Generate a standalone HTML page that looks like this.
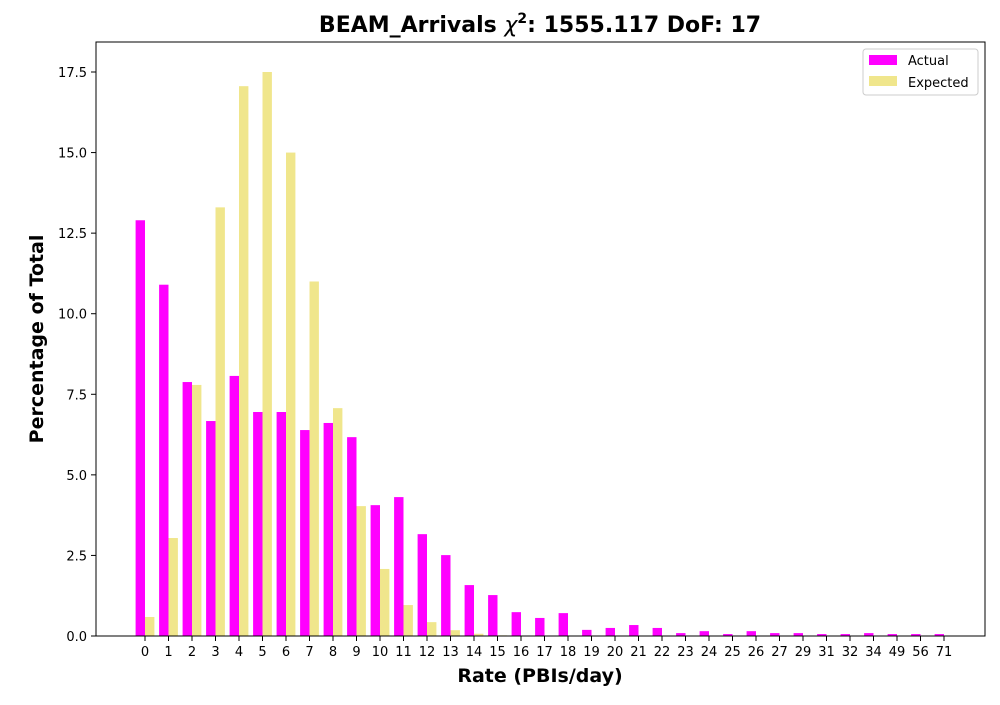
<!DOCTYPE html>
<html><head><meta charset="utf-8"><style>
html,body{margin:0;padding:0;background:#fff;}
svg text{font-family:"DejaVu Sans","Liberation Sans",sans-serif;}
</style></head><body>
<svg id="chart" width="1000" height="700" xmlns="http://www.w3.org/2000/svg">
<rect width="1000" height="700" fill="#fff"/>
<text x="540" y="32" text-anchor="middle" font-size="22" font-weight="bold">BEAM_Arrivals <tspan font-style="italic" font-weight="normal">χ</tspan><tspan font-size="14" dy="-9">2</tspan><tspan dy="9">: 1555.117 DoF: 17</tspan></text>
<g id="bars"></g>
<g id="axes"></g>
<rect x="96" y="42" width="889" height="594" fill="none" stroke="#000" stroke-width="1"/>
<text x="540" y="682" text-anchor="middle" font-size="19" font-weight="bold">Rate (PBIs/day)</text>
<text transform="translate(43,339) rotate(-90)" text-anchor="middle" font-size="19" font-weight="bold">Percentage of Total</text>
<g>
<rect x="863" y="49" width="115" height="46" fill="#fff" stroke="#ccc" rx="3"/>
<rect x="869" y="55" width="28" height="10" fill="#ff00ff"/>
<text x="908" y="65" font-size="13">Actual</text>
<rect x="869" y="76" width="28" height="10" fill="#f0e68c"/>
<text x="908" y="87" font-size="13">Expected</text>
</g>
</svg>
<script>
const categories=["0","1","2","3","4","5","6","7","8","9","10","11","12","13","14","15","16","17","18","19","20","21","22","23","24","25","26","27","29","31","32","34","49","56","71"];
const actualValues=[12.9,10.9,7.88,6.67,8.07,6.95,6.95,6.39,6.61,6.17,4.06,4.31,3.16,2.51,1.58,1.27,0.74,0.56,0.71,0.19,0.25,0.34,0.25,0.09,0.15,0.06,0.15,0.09,0.09,0.06,0.06,0.09,0.06,0.06,0.06];
const expectedValues=[0.59,3.04,7.79,13.3,17.06,17.5,15.0,11.0,7.07,4.03,2.08,0.96,0.43,0.18,0.07,0.02,0,0,0,0,0,0,0,0,0,0,0,0,0,0,0,0,0,0,0];
const yTicks=[0,2.5,5,7.5,10,12.5,15,17.5];
const yTickLabels=["0.0","2.5","5.0","7.5","10.0","12.5","15.0","17.5"];
const NS="http://www.w3.org/2000/svg";
const x0=145,step=(944-145)/34;
function xScale(i){return x0+i*step;}
function yScale(v){return 636-v*(636-72)/17.5;}
const bw=step*0.4;
const bars=document.getElementById('bars'),axes=document.getElementById('axes');
function mk(t,a,p){const e=document.createElementNS(NS,t);for(const k in a)e.setAttribute(k,a[k]);p.appendChild(e);return e;}
categories.forEach((c,i)=>{
  const cx=xScale(i);
  const a=mk('rect',{x:cx-bw,y:yScale(actualValues[i]),width:bw,height:yScale(0)-yScale(actualValues[i]),fill:'#ff00ff'},bars);
  
  
  const e=mk('rect',{x:cx,y:yScale(expectedValues[i]),width:bw,height:yScale(0)-yScale(expectedValues[i]),fill:'#f0e68c'},bars);
  
  
  mk('line',{x1:cx,x2:cx,y1:636,y2:641,stroke:'#000'},axes);
  const t=mk('text',{x:cx,y:656,'text-anchor':'middle','font-size':13},axes);
  t.textContent=c;
  
  
});
yTicks.forEach((v,i)=>{
  const y=yScale(v);
  mk('line',{x1:91,x2:96,y1:y,y2:y,stroke:'#000'},axes);
  const t=mk('text',{x:87,y:y+5,'text-anchor':'end','font-size':13},axes);
  t.textContent=yTickLabels[i];
  
  
});
</script>
</body></html>
